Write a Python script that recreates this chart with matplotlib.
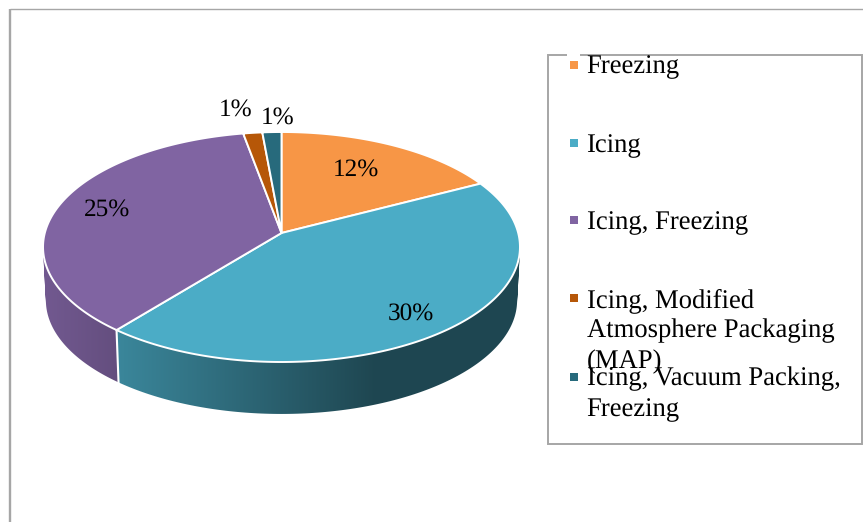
import numpy as np
import matplotlib
matplotlib.use('Agg')
import matplotlib.pyplot as plt
from matplotlib.patches import Polygon, Rectangle, PathPatch
from matplotlib.path import Path

plt.rcParams['font.family'] = ['Liberation Serif', 'DejaVu Serif']
plt.rcParams['text.hinting'] = 'no_hinting'

# Chart data
values = [12, 30, 25, 1, 1]
colors = ['#f79646', '#4bacc6', '#8064a2', '#b65708', '#276a7c']
legend_lines = [
    ['Freezing'],
    ['Icing'],
    ['Icing, Freezing'],
    ['Icing, Modified', 'Atmosphere Packaging', '(MAP)'],
    ['Icing, Vacuum Packing,', 'Freezing'],
]

# Pie geometry in pixels: centre of the disc and the perspective squash
cx, cy = 281.5, 233
a, b, k = 113.3, 236.7, 0.1217
depth, shrink = 53.5, 0.988


def project(angle, r=1.0, lower=False):
    # angle in radians, clockwise from the top of the disc
    u = r * np.sin(angle)
    v = r * np.cos(angle)
    w = 1 + k * v
    x = b * u / w
    y = a * v / w
    if lower:
        return cx + shrink * x, cy - shrink * y + depth
    return cx + x, cy - y


def rim_gradient(hex_color):
    # rim gets darker going left to right, flat after x=375
    xs = np.arange(0, 863) + 0.5
    f = np.clip(0.78 - (xs - 119) * 0.00145, 0.41, 0.9)
    rgb = np.array(matplotlib.colors.to_rgb(hex_color))
    return (f[:, None] * rgb)[None, :, :]


def rim_path(t0, t1):
    # union of small quads, all wound the same way so they don't cancel
    steps = np.linspace(t0, t1, 181)
    quads = []
    for s0, s1 in zip(steps[:-1], steps[1:]):
        q = np.array([project(s0), project(s1), project(s1, lower=True), project(s0, lower=True)])
        area = np.sum(q[:, 0] * np.roll(q[:, 1], -1) - np.roll(q[:, 0], -1) * q[:, 1])
        if area < 0:
            q = q[::-1]
        quads.append(Path(np.vstack([q, q[:1]]), closed=True))
    return Path.make_compound_path(*quads)


fig = plt.figure(figsize=(8.63, 5.22), dpi=100)
ax = fig.add_axes([0, 0, 1, 1])

# outer frame, only top and left edges are visible
ax.plot([10, 10], [522, 8.5], color='#a6a6a6', lw=1.7, solid_capstyle='butt')
ax.plot([10, 863], [8.5, 8.5], color='#a6a6a6', lw=1.0, solid_capstyle='butt')

edges = np.cumsum([0] + values) / sum(values) * 2 * np.pi

# rim first, the top surface covers the back part of it
for i, col in enumerate(colors):
    rim = PathPatch(rim_path(edges[i], edges[i + 1]), facecolor='none', edgecolor='none')
    ax.add_patch(rim)
    im = ax.imshow(rim_gradient(col), extent=(0, 863, 522, 0), aspect='auto',
                   interpolation='bilinear', zorder=2)
    im.set_clip_path(rim)

# white seam down the rim where icing meets icing+freezing
sx0, sy0 = project(edges[2])
sx1, sy1 = project(edges[2], lower=True)
ax.plot([sx0, sx1], [sy0, sy1], color='white', lw=1.5, zorder=3)

# top surface
for i, col in enumerate(colors):
    t = np.linspace(edges[i], edges[i + 1], 200)
    xs, ys = project(t)
    pts = [project(0, r=0)] + list(zip(xs, ys))
    ax.add_patch(Polygon(pts, closed=True, facecolor=col, edgecolor='white',
                         lw=1.4, joinstyle='round', zorder=4))

# percent labels
label_pos = [(355.5, 170), (411, 314), (107.5, 210), (235.5, 110), (277.5, 118)]
for v, (lx, ly) in zip(values, label_pos):
    ax.text(lx, ly, f'{v}%', fontsize=18.2, ha='center', va='center', color='black', zorder=6)

# legend box
ax.add_patch(Rectangle((548, 55), 314, 389, facecolor='white', edgecolor='#a6a6a6', lw=1.4, zorder=1))
ax.add_patch(Rectangle((567, 53.5), 13, 3, facecolor='white', edgecolor='none', zorder=1.5))

marker_y = [65, 143, 220, 298, 376.5]
first_baseline = [73, 151.7, 229.3, 306.7, 385]
for col, my, base, lines in zip(colors, marker_y, first_baseline, legend_lines):
    ax.add_patch(Rectangle((570, my - 4), 8, 8, facecolor=col, edgecolor='none', zorder=5))
    for n, line in enumerate(lines):
        ax.text(586.5, base + n * 30.8, line, fontsize=19.2, ha='left', va='baseline', color='black', zorder=6)

ax.set_xlim(0, 863)
ax.set_ylim(522, 0)
ax.axis('off')

plt.savefig('out.png', dpi=100)
